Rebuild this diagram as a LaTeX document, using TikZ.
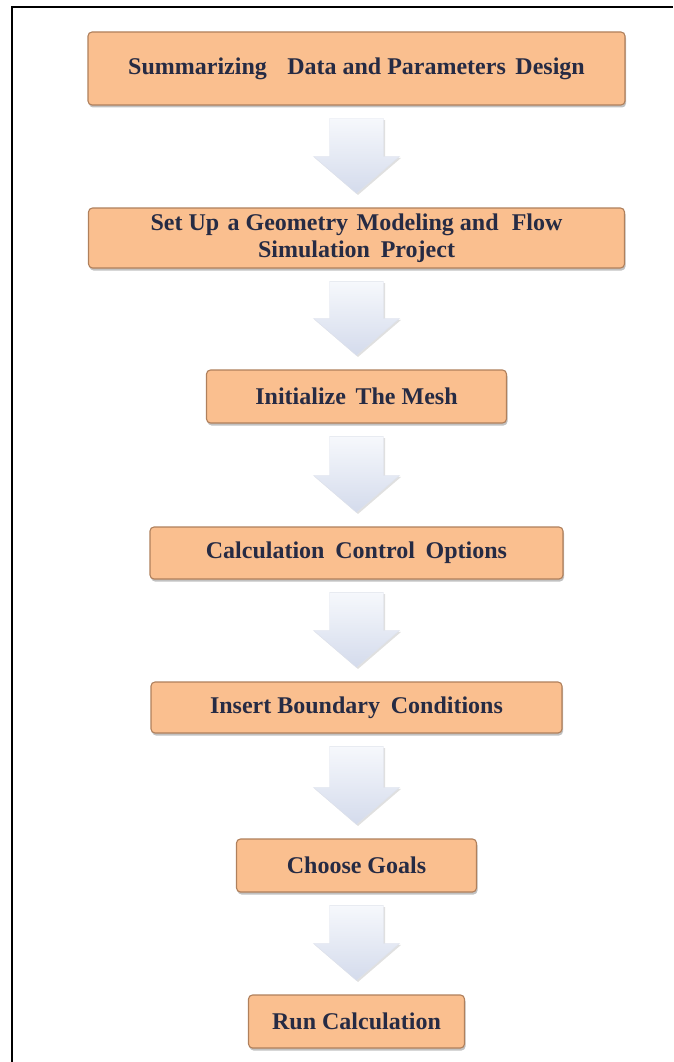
\documentclass[tikz,border=0pt]{standalone}
\usepackage{fontspec}
\setmainfont{Liberation Serif}
\usetikzlibrary{calc,shadows}
\definecolor{boxfill}{RGB}{250,191,143}
\definecolor{boxedge}{RGB}{176,128,92}
\definecolor{boxtext}{RGB}{38,43,68}
\definecolor{arrowtop}{RGB}{246,248,252}
\definecolor{arrowbot}{RGB}{212,219,236}
\definecolor{arrowedge}{RGB}{222,226,236}
\tikzset{
  stepbox/.style={draw=boxedge, line width=1.1pt, fill=boxfill, rounded corners=4pt,
    inner sep=0pt, align=center, text=boxtext,
    font=\bfseries\fontsize{24}{27}\selectfont,
    drop shadow={shadow xshift=1pt, shadow yshift=-2.5pt, opacity=0.4, fill=black!60}},
  blockarrow/.style={top color=arrowtop, bottom color=arrowbot, draw=arrowedge, line width=0.4pt,
    drop shadow={shadow xshift=1.5pt, shadow yshift=-1.5pt, opacity=0.12, fill=black}},
  frameline/.style={draw=black, line width=2.5pt}
}
\newcommand{\flowarrow}[2]{%
  \path[blockarrow]
    ($(#1.south)+(-27,13)$) -- ($(#1.south)+(27,13)$)
    -- ($(#2.north)+(27,-51)$) -- ($(#2.north)+(43,-51)$)
    -- ($(#2.north)+(0,-14)$)
    -- ($(#2.north)+(-43,-51)$) -- ($(#2.north)+(-27,-51)$) -- cycle;}
\begin{document}
\begin{tikzpicture}[x=1pt,y=-1pt]
\useasboundingbox (0,0) rectangle (673,1062);
\fill[white] (0,0) rectangle (673,1062);
\draw[frameline] (12,1062) -- (12,7) -- (673,7);

\node[stepbox, minimum width=537pt, minimum height=73pt] (b1) at (356.5,68.5)
  {Summarizing\hspace{0.6em} Data and Parameters\hspace{0.15em} Design};
\node[stepbox, minimum width=536pt, minimum height=60pt] (b2) at (356.5,238)
  {Set Up\hspace{0.1em} a Geometry\hspace{0.1em} Modeling and\hspace{0.3em} Flow\\Simulation\hspace{0.2em} Project};
\node[stepbox, minimum width=300pt, minimum height=53pt] (b3) at (356.5,396.5)
  {Initialize\hspace{0.15em} The Mesh};
\node[stepbox, minimum width=413pt, minimum height=52pt] (b4) at (356.5,553)
  {Calculation\hspace{0.2em} Control\hspace{0.2em} Options};
\node[stepbox, minimum width=411pt, minimum height=51pt] (b5) at (356.5,707.5)
  {Insert Boundary\hspace{0.2em} Conditions};
\node[stepbox, minimum width=240pt, minimum height=53pt] (b6) at (356.5,865.5)
  {Choose Goals};
\node[stepbox, minimum width=216pt, minimum height=53pt] (b7) at (356.5,1021.5)
  {Run Calculation};

\flowarrow{b1}{b2}
\flowarrow{b2}{b3}
\flowarrow{b3}{b4}
\flowarrow{b4}{b5}
\flowarrow{b5}{b6}
\flowarrow{b6}{b7}
\end{tikzpicture}
\end{document}
